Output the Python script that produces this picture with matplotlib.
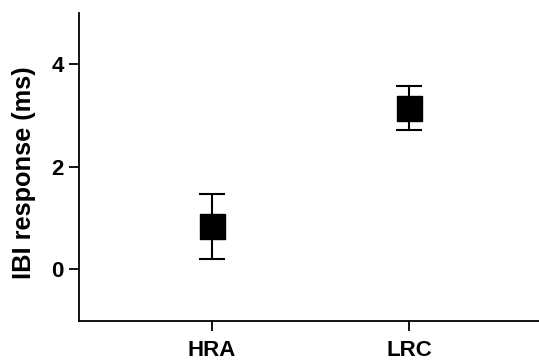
import numpy as np
import matplotlib
matplotlib.use("Agg")
import matplotlib.pyplot as plt

groups = ["HRA", "LRC"]
means = [0.84, 3.14]
err_lo = [0.64, 0.42]
err_hi = [0.62, 0.43]

plt.rcParams['font.family'] = ['Liberation Sans', 'DejaVu Sans']

fig = plt.figure(figsize=(5.39, 3.6), dpi=100)
ax = fig.add_axes([0.1466, 0.109, 0.8534, 0.856])

x = np.arange(len(groups))
ax.errorbar(x, means, yerr=[err_lo, err_hi], fmt='s', color='black',
            markersize=18, capsize=9.5, capthick=1.5, elinewidth=1.5)

ax.set_xlim(-0.67, 1.655)
ax.set_ylim(-1, 5)
ax.set_yticks([0, 2, 4])
ax.set_xticks(x)
ax.set_xticklabels(groups)
ax.set_ylabel("IBI response (ms)", fontsize=18.3, fontweight='bold')
ax.yaxis.set_label_coords(-0.094, 0.48)

for s in ['top', 'right']:
    ax.spines[s].set_visible(False)
for s in ['left', 'bottom']:
    ax.spines[s].set_linewidth(1.3)
ax.tick_params(axis='both', width=1.3, length=7.5, labelsize=16)
for lab in ax.get_xticklabels() + ax.get_yticklabels():
    lab.set_fontweight('bold')
ax.tick_params(axis='x', pad=6)

fig.savefig("out.png", dpi=100)
